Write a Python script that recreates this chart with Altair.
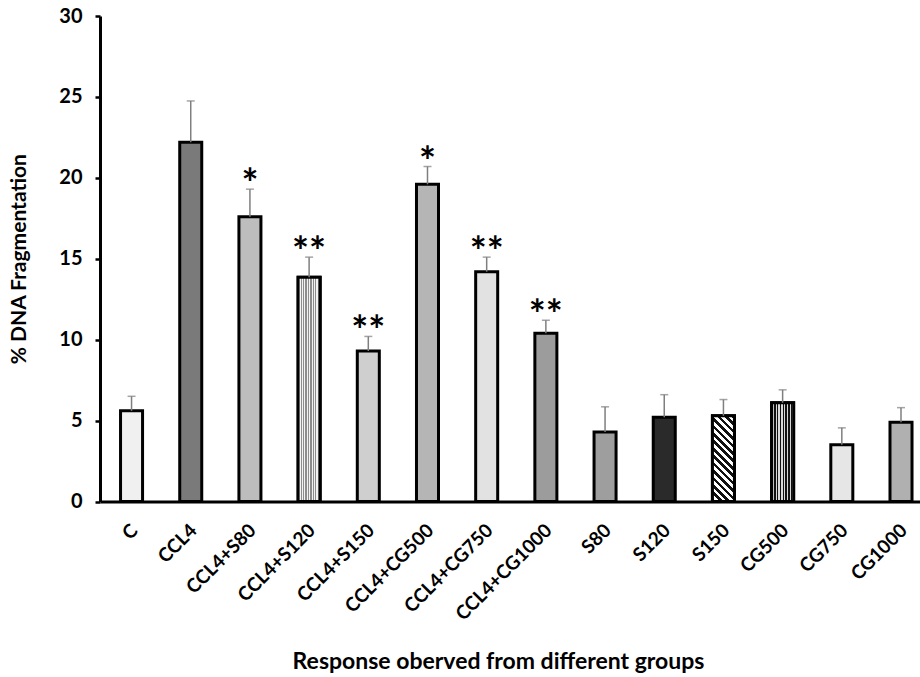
import math
import altair as alt
import pandas as pd

# Group means, their error-bar half widths and significance marks
groups = ["C", "CCL4", "CCL4+S80", "CCL4+S120", "CCL4+S150", "CCL4+CG500",
          "CCL4+CG750", "CCL4+CG1000", "S80", "S120", "S150", "CG500",
          "CG750", "CG1000"]
means = [5.6, 22.2, 17.6, 13.85, 9.3, 19.6, 14.2, 10.4, 4.3, 5.2, 5.3, 6.1, 3.5, 4.9]
errors = [0.9, 2.55, 1.7, 1.25, 0.9, 1.1, 0.9, 0.8, 1.55, 1.4, 1.0, 0.8, 1.05, 0.9]
stars = ["", "", "*", "**", "**", "*", "**", "**", "", "", "", "", "", ""]
y_ticks = [0, 5, 10, 15, 20, 25, 30]

# Base grey tone of each bar
tones = ["#f0f0f0", "#7a7a7a", "#bdbdbd", "#c4c4c4", "#cfcfcf", "#b5b5b5",
         "#e2e2e2", "#9c9c9c", "#9e9e9e", "#2a2a2a", "#8a8a8a", "#7a7a7a",
         "#e6e6e6", "#b0b0b0"]

df = pd.DataFrame({"group": groups, "mean": means, "err": errors,
                   "star": stars, "tone": tones})
df["upper"] = df["mean"] + df["err"]
df["base"] = 0

W, H = 820, 485.5
Y_MAX = 30
BAR_W = 22
FONT = "Lato"

x_scale = alt.Scale(domain=groups, paddingInner=0.628, paddingOuter=0.241, align=0.72)
y_scale = alt.Scale(domain=[0, Y_MAX], nice=False)

# Category names are drawn by a rotated text layer, the axis keeps line and title
x_axis = alt.Axis(
    title="Response oberved from different groups",
    labels=False, ticks=False, tickSize=0,
    domainColor="black", domainWidth=3,
    titleFont=FONT, titleFontSize=23, titleFontWeight="bold", titleColor="black",
    titleX=398, titleY=160, titleAlign="center", titleBaseline="middle",
)
y_axis = alt.Axis(
    title="% DNA Fragmentation", values=y_ticks, format="d", grid=False,
    labelFont=FONT, labelFontSize=20, labelFontWeight="bold", labelColor="black",
    labelPadding=13, tickSize=5, tickWidth=2.5, tickColor="black",
    domainColor="black", domainWidth=3,
    titleFont=FONT, titleFontSize=21, titleFontWeight="bold", titleColor="black",
    titleX=-81, titleY=H / 2, titleAlign="center", titleBaseline="middle",
)

x_enc = alt.X("group:N", scale=x_scale, axis=x_axis)


def y_enc(field):
    return alt.Y(field, scale=y_scale, axis=y_axis)


base = alt.Chart(df)

bars = base.mark_bar(stroke="black", strokeWidth=3).encode(
    x=x_enc,
    y=y_enc("mean:Q"),
    fill=alt.Fill("tone:N", scale=None),
)


def stripe_stops(c1, c2, n, frac):
    stops = []
    for i in range(n):
        a, m, b = i / n, (i + frac) / n, (i + 1) / n
        stops += [{"offset": a, "color": c1}, {"offset": m, "color": c1},
                  {"offset": m, "color": c2}, {"offset": b, "color": c2}]
    return stops


def vertical_stripes(c1, c2, n, frac):
    return {"gradient": "linear", "x1": 0, "y1": 0, "x2": 1, "y2": 0,
            "stops": stripe_stops(c1, c2, n, frac)}


def diagonal_hatch(value, c1, c2, spacing, frac):
    h = value * H / Y_MAX
    span = (BAR_W + h * h / BAR_W) / math.sqrt(2)
    n = max(1, round(span / spacing))
    return {"gradient": "linear", "x1": 0, "y1": 1, "x2": 1, "y2": 1 - h / BAR_W,
            "stops": stripe_stops(c1, c2, n, frac)}


def patterned(name, fill):
    return base.transform_filter(alt.datum.group == name).mark_bar(
        stroke="black", strokeWidth=3, fill=fill
    ).encode(x=x_enc, y=y_enc("mean:Q"))


s150_mean = means[groups.index("S150")]
patterns = [
    patterned("CCL4+S120", vertical_stripes("#8c8c8c", "#f2f2f2", 9, 0.5)),
    patterned("CG500", vertical_stripes("#111111", "#d8d8d8", 8, 0.5)),
    patterned("S150", diagonal_hatch(s150_mean, "#111111", "#ffffff", 5.2, 0.5)),
]

err_rule = base.mark_rule(color="#7f7f7f", strokeWidth=1.5).encode(
    x=x_enc, y=y_enc("mean:Q"), y2="upper:Q"
)
err_cap = base.mark_tick(color="#7f7f7f", size=8, thickness=1.5).encode(
    x=x_enc, y=y_enc("upper:Q")
)
star_text = base.transform_filter(alt.datum.star != "").mark_text(
    font=FONT, fontSize=40, fontWeight="bold", color="black",
    baseline="alphabetic", dy=9
).encode(x=x_enc, y=y_enc("upper:Q"), text="star:N")

group_labels = base.mark_text(
    font=FONT, fontSize=19, fontWeight="bold", color="black",
    align="right", baseline="middle", xOffset=3, yOffset=26
).encode(x=x_enc, y=y_enc("base:Q"), text="group:N", angle=alt.value(315))

chart = alt.layer(bars, *patterns, err_rule, err_cap, star_text, group_labels).properties(
    width=W, height=H,
    padding={"left": 100, "top": 16, "right": 0, "bottom": 677 - 16 - H},
    autosize=alt.AutoSizeParams(type="none"),
).configure_view(stroke=None)

chart.save("out.html", embed_options={"renderer": "svg", "actions": False})
